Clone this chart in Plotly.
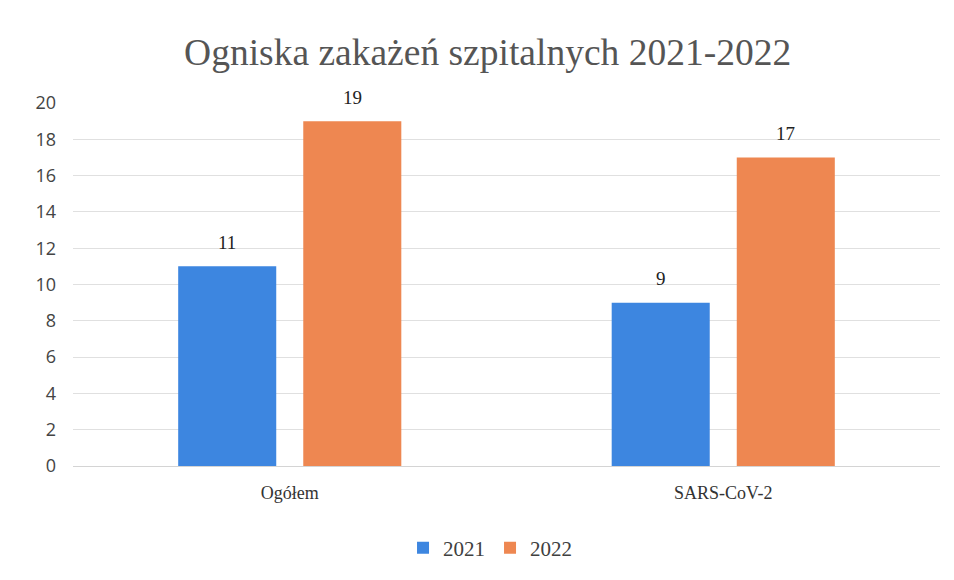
import plotly.graph_objects as go

categories = ["Ogółem", "SARS-CoV-2"]
series_names = ["2021", "2022"]
values_2021 = [11, 9]
values_2022 = [19, 17]
tick_vals = [0, 2, 4, 6, 8, 10, 12, 14, 16, 18, 20]

colors = ["#3d86e0", "#ee8751"]
serif = "Liberation Serif"

W, H = 946, 572
ML, MR, MT, MB = 65, 14, 95, 114

fig = go.Figure()
all_vals = [values_2021, values_2022]
for name, vals, col in zip(series_names, all_vals, colors):
    fig.add_trace(go.Bar(
        x=categories, y=vals, name=name,
        marker=dict(color=col, line=dict(width=0)),
    ))

# data labels above bars
band_px = (W - ML - MR) / len(categories)
bargap, bargroupgap = 0.423, 0.216
slot = (1 - bargap) * band_px / len(series_names)
for si, vals in enumerate(all_vals):
    offset = (si - (len(series_names) - 1) / 2) * slot
    for cat, v in zip(categories, vals):
        fig.add_annotation(x=cat, y=v, text=str(v), showarrow=False,
                           xshift=offset, yshift=24, yanchor="middle",
                           font=dict(family=serif, size=19, color="#222222"))

fig.update_layout(
    width=W, height=H,
    margin=dict(l=ML, r=MR, t=MT, b=MB),
    paper_bgcolor="white", plot_bgcolor="white",
    title=dict(text="Ogniska zakażeń szpitalnych 2021-2022", x=0.507, xanchor="center",
               y=0.923, yanchor="middle",
               font=dict(family=serif, size=37.5, color="#555555")),
    barmode="group", bargap=bargap, bargroupgap=bargroupgap,
    showlegend=True,
    legend=dict(orientation="h", x=0.481, xanchor="center", y=-0.226, yanchor="middle",
                font=dict(family=serif, size=21, color="#404040"),
                itemwidth=30, traceorder="normal"),
    xaxis=dict(tickfont=dict(family=serif, size=18, color="#333333"),
               showline=False, ticks="", showgrid=False, ticklabelstandoff=14),
    yaxis=dict(range=[0, 20], tickvals=tick_vals, showgrid=True, gridcolor="#e0e0e0",
               gridwidth=1, zeroline=True, zerolinecolor="#d4d4d4", zerolinewidth=1,
               tickfont=dict(family="Open Sans", size=18, color="#444444"),
               ticks="", ticklabelstandoff=16),
)

fig.write_html("out.html")
